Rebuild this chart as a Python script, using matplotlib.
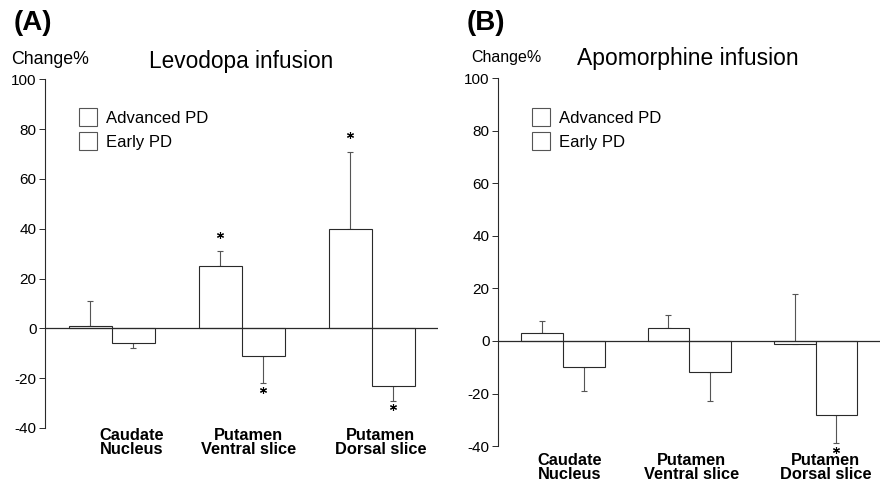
import numpy as np
import matplotlib
matplotlib.use('Agg')
import matplotlib.pyplot as plt
from matplotlib.patches import Patch

plt.rcParams['font.family'] = ['Liberation Sans', 'DejaVu Sans']

regions = ['Caudate\nNucleus', 'Putamen\nVentral slice', 'Putamen\nDorsal slice']
series = ['Advanced PD', 'Early PD']

# (A) Levodopa infusion: bar value and error-bar tip
levo_adv = [1, 25, 40]
levo_adv_tip = [11, 31, 71]
levo_early = [-6, -11, -23]
levo_early_tip = [-8, -22, -29]
levo_adv_sig = [False, True, True]
levo_early_sig = [False, True, True]

# (B) Apomorphine infusion
apo_adv = [3, 5, -1]
apo_adv_tip = [7.5, 10, 18]
apo_early = [-10, -12, -28]
apo_early_tip = [-19, -23, -39]
apo_adv_sig = [False, False, False]
apo_early_sig = [False, False, True]

yticks = [-40, -20, 0, 20, 40, 60, 80, 100]
LINE = '#2a2a2a'


def one_sided(vals, tips):
    vals = np.array(vals, float)
    tips = np.array(tips, float)
    lower = np.clip(vals - tips, 0, None)
    upper = np.clip(tips - vals, 0, None)
    return [lower, upper]


def draw_panel(ax, adv, adv_tip, early, early_tip, adv_sig, early_sig,
               label_y, label_dx, legend_anchor):
    x = np.arange(len(regions))
    w = 0.33
    for vals, tips, sig, off in [(adv, adv_tip, adv_sig, -w / 2),
                                 (early, early_tip, early_sig, w / 2)]:
        ax.bar(x + off, vals, width=w, color='white', edgecolor=LINE,
               linewidth=0.8, zorder=2)
        ax.errorbar(x + off, vals, yerr=one_sided(vals, tips), fmt='none',
                    ecolor='#555555', elinewidth=0.8, capsize=2.2,
                    capthick=0.8, zorder=1)
        # significance asterisks just beyond the error-bar tip
        tips = np.array(tips, float)
        sig = np.array(sig)
        star_y = np.where(tips > 0, tips + 6.5, tips - 2.6)
        ax.plot((x + off)[sig], star_y[sig], linestyle='none',
                marker=(6, 2, 0), markersize=5, markeredgewidth=0.8,
                color='black', clip_on=False, zorder=4)

    ax.axhline(0, color=LINE, linewidth=0.9, zorder=3)
    ax.set_ylim(-40, 100)
    ax.set_xlim(-0.515, 2.51)
    ax.set_yticks(yticks)
    ax.set_yticklabels([str(t) for t in yticks], fontsize=11)
    ax.tick_params(axis='y', direction='out', length=4, width=0.7,
                   color=LINE, pad=2)
    ax.set_xticks([])
    for s in ['top', 'right', 'bottom']:
        ax.spines[s].set_visible(False)
    ax.spines['left'].set_color(LINE)
    ax.spines['left'].set_linewidth(0.8)

    for xi, name, dx in zip(x, regions, label_dx):
        ax.text(xi + dx, label_y, name, ha='center', va='top', fontsize=11.8,
                fontweight='bold', linespacing=0.92, clip_on=False)

    handles = [Patch(facecolor='white', edgecolor='#555555', linewidth=0.8)
               for _ in series]
    ax.legend(handles, series, loc='upper left', frameon=False,
              fontsize=12, handlelength=1.08, handleheight=1.3,
              handletextpad=0.55, labelspacing=0.35, borderpad=0,
              borderaxespad=0, bbox_to_anchor=legend_anchor)


fig = plt.figure(figsize=(8.8, 4.83), dpi=100)

axA = fig.add_axes([0.0511, 0.1139, 0.4466, 0.7217])
draw_panel(axA, levo_adv, levo_adv_tip, levo_early, levo_early_tip,
           levo_adv_sig, levo_early_sig, -40.0, [0.15, 0.05, 0.07],
           (0.0865, 0.918))

axB = fig.add_axes([0.5659, 0.0766, 0.4341, 0.7609])
draw_panel(axB, apo_adv, apo_adv_tip, apo_early, apo_early_tip,
           apo_adv_sig, apo_early_sig, -42.8, [0.05, 0.02, 0.08],
           (0.089, 0.92))

fig.text(0.016, 0.980, '(A)', fontsize=20, fontweight='bold', va='top')
fig.text(0.013, 0.876, 'Change%', fontsize=12.8, va='center')
fig.text(0.274, 0.873, 'Levodopa infusion', fontsize=16.3, ha='center',
         va='center')

fig.text(0.530, 0.980, '(B)', fontsize=20, fontweight='bold', va='top')
fig.text(0.536, 0.880, 'Change%', fontsize=11.5, va='center')
fig.text(0.782, 0.879, 'Apomorphine infusion', fontsize=16.5, ha='center',
         va='center')

fig.savefig('out.png', dpi=100)
